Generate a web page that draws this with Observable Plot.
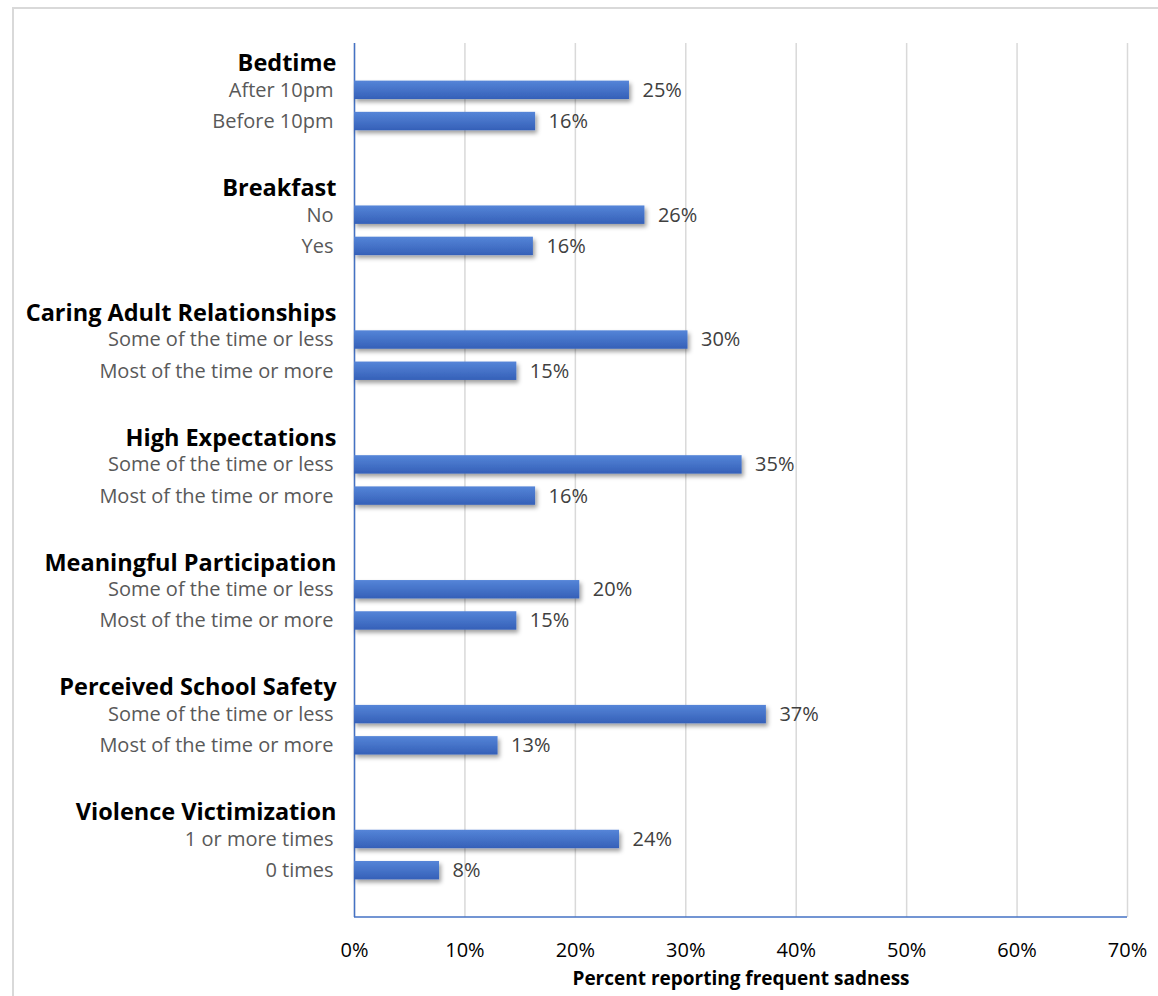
<!DOCTYPE html>
<html><head><meta charset="utf-8">
<script src="https://cdn.jsdelivr.net/npm/d3@7"></script>
<script src="https://cdn.jsdelivr.net/npm/@observablehq/plot@0.6"></script>
<style>
html,body{margin:0;padding:0;background:#fff;overflow:hidden;}
#wrap{position:relative;width:1158px;height:996px;overflow:hidden;}
#border{position:absolute;left:12px;top:7px;width:1200px;height:1100px;border:2px solid #d9d9d9;box-sizing:border-box;}
#chart{position:absolute;left:0;top:0;}
</style></head><body>
<div id="wrap"><div id="border"></div><div id="chart"></div></div>
<script>
const groups = ["Bedtime","Breakfast","Caring Adult Relationships","High Expectations","Meaningful Participation","Perceived School Safety","Violence Victimization"];
const subLabels = [
  ["After 10pm","Before 10pm"],
  ["No","Yes"],
  ["Some of the time or less","Most of the time or more"],
  ["Some of the time or less","Most of the time or more"],
  ["Some of the time or less","Most of the time or more"],
  ["Some of the time or less","Most of the time or more"],
  ["1 or more times","0 times"]
];
const values = [
  [0.249,0.164],
  [0.263,0.162],
  [0.302,0.147],
  [0.351,0.164],
  [0.204,0.147],
  [0.373,0.130],
  [0.240,0.077]
];
const xTicks = [0,0.1,0.2,0.3,0.4,0.5,0.6,0.7];
const axisTitle = "Percent reporting frequent sadness";

const domain = [];
const headers = [];
const bars = [];
groups.forEach((g,i)=>{
  domain.push(g+"|h", g+"|a", g+"|b", g+"|s");
  headers.push({slot:g+"|h", label:g});
  subLabels[i].forEach((s,j)=>{
    bars.push({slot:g+(j===0?"|a":"|b"), label:s, value:values[i][j]});
  });
});

const chart = Plot.plot({
  width:1158, height:996,
  marginLeft:354, marginRight:31, marginTop:43, marginBottom:79,
  style:{fontFamily:"'Open Sans', Lato, sans-serif", background:"transparent", overflow:"visible"},
  x:{domain:[0,0.7]},
  y:{domain, paddingInner:0.41, paddingOuter:0.205, round:false, axis:null},
  marks:[
    Plot.gridX(xTicks,{stroke:"#d9d9d9", strokeOpacity:1, strokeWidth:1.5}),
    Plot.axisX(xTicks,{tickSize:0, tickPadding:25, fontSize:20, fill:"#000", tickFormat:d=>Math.round(d*100)+"%", label:null}),
    Plot.ruleX([0],{stroke:"#4472c4", strokeWidth:1.5}),
    Plot.barX(bars,{x:"value", y:"slot", fill:"url(#barGrad)"}),
    Plot.text(bars,{x:"value", y:"slot", text:d=>Math.round(d.value*100)+"%", textAnchor:"start", dx:13, fontSize:20, fill:"#404040"}),
    Plot.text(bars,{x:()=>0, y:"slot", text:"label", textAnchor:"end", dx:-21, fontSize:20, fill:"#595959"}),
    Plot.text(headers,{x:()=>0, y:"slot", text:"label", textAnchor:"end", dx:-18, dy:4.5, fontSize:23.5, fontWeight:"bold", fill:"#000"}),
    Plot.text([axisTitle],{frameAnchor:"bottom", dy:67, fontSize:19, fontWeight:"bold", fill:"#000"})
  ]
});
document.getElementById("chart").appendChild(chart);

const svg = d3.select(chart);
const defs = svg.insert("defs",":first-child");
const grad = defs.append("linearGradient").attr("id","barGrad").attr("x1",0).attr("y1",0).attr("x2",0).attr("y2",1);
grad.append("stop").attr("offset","0%").attr("stop-color","#5585d8");
grad.append("stop").attr("offset","100%").attr("stop-color","#3560b8");
const filt = defs.append("filter").attr("id","barShadow").attr("x","-10%").attr("y","-30%").attr("width","130%").attr("height","190%");
filt.append("feDropShadow").attr("dx",2).attr("dy",3).attr("stdDeviation",2.2).attr("flood-color","#000").attr("flood-opacity",0.38);
svg.selectAll("g[aria-label='bar'] rect").attr("filter","url(#barShadow)");

// bottom axis line (plot-area border) drawn from the x scale
const xs = chart.scale("x");
const yBottom = 996 - 79;
svg.append("line")
  .attr("x1", xs.apply(0)).attr("x2", xs.apply(0.7))
  .attr("y1", yBottom).attr("y2", yBottom)
  .attr("stroke","#4472c4").attr("stroke-width",1.5);
</script>
</body></html>
